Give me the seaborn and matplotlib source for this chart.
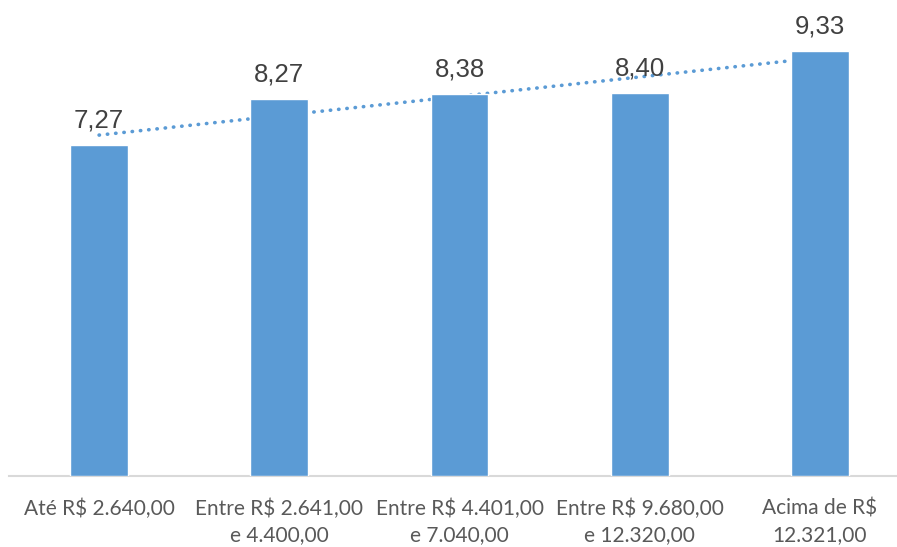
import numpy as np
import seaborn as sns
import matplotlib.pyplot as plt

# faixas de renda e notas médias
faixas = ['Até R$ 2.640,00',
          'Entre R$ 2.641,00\ne 4.400,00',
          'Entre R$ 4.401,00\ne 7.040,00',
          'Entre R$ 9.680,00\ne 12.320,00',
          'Acima de R$\n12.321,00']
notas = [7.27, 8.27, 8.38, 8.40, 9.33]

cor = '#5B9BD5'

sns.set_style('white')
plt.rcParams['font.family'] = ['Liberation Sans', 'DejaVu Sans']

fig = plt.figure(figsize=(8.97, 5.47), dpi=100)
ax = fig.add_axes([9/897, 71/547, 901/897, 474/547])

sns.barplot(x=faixas, y=notas, color=cor, width=0.32, saturation=1, ax=ax, zorder=3)

# linha de tendência linear (pontilhada, atrás das barras)
x = np.arange(len(notas))
coef = np.polyfit(x, notas, 1)
ax.plot(x, np.polyval(coef, x), color=cor, lw=2.6, linestyle=(0, (0.1, 2.2)),
        dash_capstyle='round', zorder=2)

ax.bar_label(ax.containers[0], labels=[f'{v:.2f}'.replace('.', ',') for v in notas],
             padding=9, fontsize=18.5, color='#404040', zorder=4)

ax.set_ylim(0, 10.4)
ax.set_xlim(-0.5, 4.5)
ax.set_yticks([])
ax.set_ylabel('')
for s in ['top', 'right', 'left']:
    ax.spines[s].set_visible(False)
ax.spines['bottom'].set_color('#D9D9D9')
ax.spines['bottom'].set_linewidth(1.5)
ax.tick_params(axis='x', length=0, pad=16)
for t in ax.get_xticklabels():
    t.set_fontfamily(['Lato', 'DejaVu Sans'])
    t.set_fontsize(15)
    t.set_color('#595959')
    t.set_linespacing(1.4)
    t.set_verticalalignment('top')

fig.savefig('out.png', dpi=100)
